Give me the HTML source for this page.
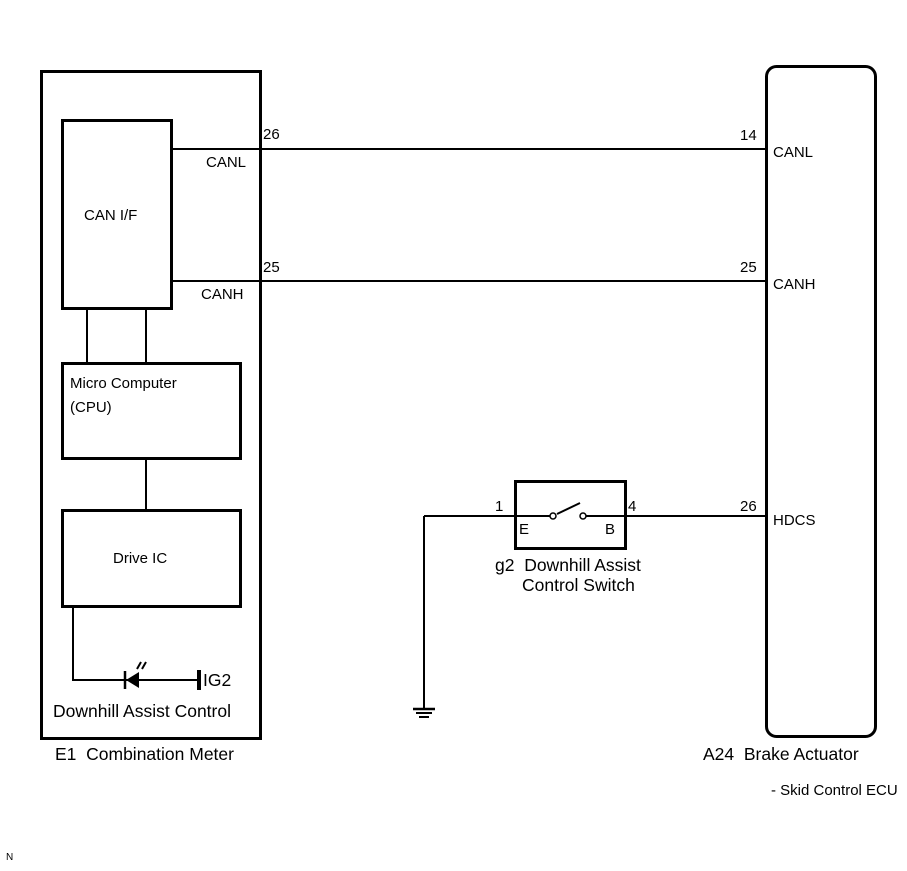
<!DOCTYPE html>
<html><head><meta charset="utf-8"><style>
body{margin:0;background:#fff}
svg text{font-family:"Liberation Sans",Arial,sans-serif;font-size:15px;fill:#000}
svg text.b{font-size:17.5px}
</style></head><body>
<svg width="907" height="866" viewBox="0 0 907 866" xmlns="http://www.w3.org/2000/svg">
<g fill="none" stroke="#000">
<rect x="41.5" y="71.5" width="219" height="667" stroke-width="3"/>
<rect x="62.5" y="120.5" width="109" height="188" stroke-width="3"/>
<rect x="62.5" y="363.5" width="178" height="95" stroke-width="3"/>
<rect x="62.5" y="510.5" width="178" height="96" stroke-width="3"/>
<rect x="766.5" y="66.5" width="109" height="670" rx="10" stroke-width="3"/>
<rect x="515.5" y="481.5" width="110" height="67" stroke-width="3"/>
<g stroke-width="2">
<line x1="87" y1="308" x2="87" y2="363"/>
<line x1="146" y1="308" x2="146" y2="363"/>
<line x1="146" y1="458" x2="146" y2="510"/>
<line x1="171" y1="149" x2="766" y2="149"/>
<line x1="171" y1="281" x2="766" y2="281"/>
<polyline points="73,606 73,680 199,680"/>
<line x1="424" y1="516" x2="553" y2="516"/>
<line x1="586" y1="516" x2="766" y2="516"/>
<polyline points="424,516 424,708"/>
<line x1="557" y1="514" x2="580" y2="503"/>
<line x1="137" y1="669" x2="141" y2="662"/>
<line x1="142" y1="669" x2="146" y2="662"/>
</g>
<line x1="199" y1="670" x2="199" y2="690" stroke-width="4"/>
<line x1="125" y1="671" x2="125" y2="689" stroke-width="2.5"/>
<line x1="413" y1="709" x2="435" y2="709" stroke-width="2.5"/>
<line x1="416" y1="713" x2="432" y2="713" stroke-width="2"/>
<line x1="419" y1="717" x2="429" y2="717" stroke-width="2"/>
<circle cx="553" cy="516" r="3" fill="#fff" stroke-width="1.5"/>
<circle cx="583" cy="516" r="3" fill="#fff" stroke-width="1.5"/>
</g>
<polygon points="126,680 139,672 139,688" fill="#000"/>
<text x="263" y="139">26</text>
<text x="206" y="167">CANL</text>
<text x="263" y="272">25</text>
<text x="201" y="299">CANH</text>
<text x="84" y="220">CAN I/F</text>
<text x="70" y="388">Micro Computer</text>
<text x="70" y="412">(CPU)</text>
<text x="113" y="563">Drive IC</text>
<text class="b" x="203" y="686">IG2</text>
<text class="b" x="53" y="717">Downhill Assist Control</text>
<text class="b" x="55" y="760">E1&#160;&#160;Combination Meter</text>
<text x="740" y="140">14</text>
<text x="773" y="157">CANL</text>
<text x="740" y="272">25</text>
<text x="773" y="289">CANH</text>
<text x="740" y="511">26</text>
<text x="773" y="525">HDCS</text>
<text x="495" y="511">1</text>
<text x="628" y="511">4</text>
<text x="519" y="534">E</text>
<text x="605" y="534">B</text>
<text class="b" x="495" y="571">g2&#160;&#160;Downhill Assist</text>
<text class="b" x="522" y="591">Control Switch</text>
<text class="b" x="703" y="760">A24&#160;&#160;Brake Actuator</text>
<text x="771" y="795">- Skid Control ECU</text>
<text x="6" y="860" style="font-size:10px">N</text>
</svg>
</body></html>
